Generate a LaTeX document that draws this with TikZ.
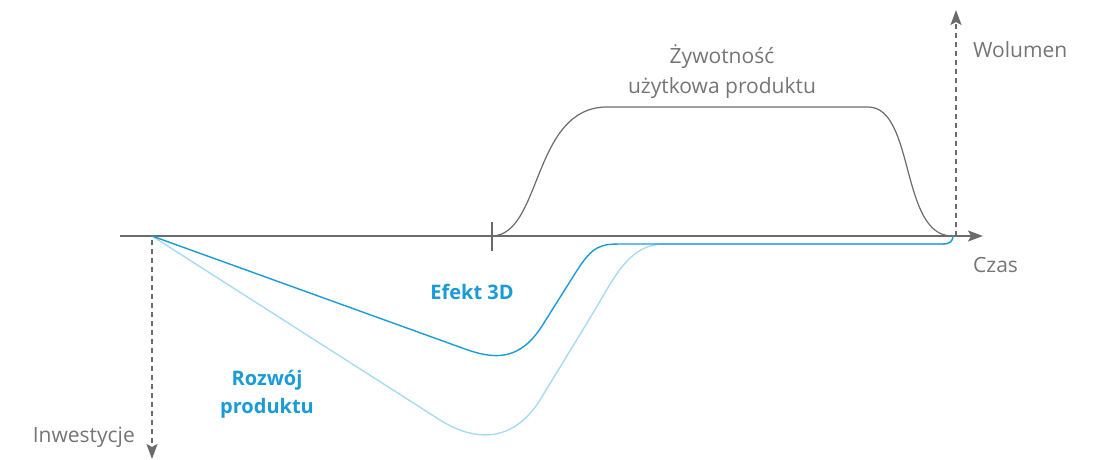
\documentclass[tikz,border=0pt]{standalone}
\usepackage{fontspec}
\setmainfont{Open Sans}
\usetikzlibrary{arrows.meta}
\definecolor{axisgray}{HTML}{6B6B6B}
\definecolor{labelgray}{HTML}{757575}
\definecolor{hpblue}{HTML}{1A9BD7}
\definecolor{paleblue}{HTML}{A6DBF3}
\tikzset{
  axis/.style={draw=axisgray, line width=1.4pt},
  guide/.style={draw=axisgray, line width=1.3pt, dash pattern=on 5pt off 4pt},
  tip/.style={-{Stealth[length=15pt,width=11pt,inset=3pt]}},
  lifecurve/.style={draw=axisgray, line width=1.2pt},
  effect/.style={draw=hpblue, line width=1.4pt, line join=round},
  devel/.style={draw=paleblue, line width=1.4pt, line join=round},
  greylabel/.style={text=labelgray, font=\fontsize{21}{30}\selectfont, inner sep=0pt, align=center},
  bluelabel/.style={text=hpblue, font=\fontsize{20}{28}\selectfont\bfseries, inner sep=0pt, align=center}
}
\begin{document}
\begin{tikzpicture}[x=1pt,y=-1pt]
\useasboundingbox (0,0) rectangle (1100,459);

% axes
\coordinate (o) at (152,236);
\coordinate (xstart) at (120,236);
\coordinate (xend) at (983,236);
\coordinate (vbase) at (956,236);
\coordinate (vtop) at (956,10);
\coordinate (dtop) at (152,240);
\coordinate (dbot) at (152,459);
\coordinate (tk1) at (492,222);
\coordinate (tk2) at (492,251);

\draw[guide, tip] (vbase) -- (vtop);
\draw[guide, tip] (dtop) -- (dbot);
\draw[axis, tip] (xstart) -- (xend);
\draw[axis] (tk1) -- (tk2);

% product life
\draw[lifecurve] (492,236) .. controls (542,235) and (532,107) .. (607,107)
  -- (868,107) .. controls (915,107) and (900,236) .. (952,236);

% product development curve
\draw[devel] (o) -- (440,420) .. controls (475,442) and (513,443) .. (540,400)
  -- (590,318) .. controls (615,277) and (628,244) .. (665,244) -- (945,244)
  .. controls (950,244) and (953,241) .. (953,236);

% 3D effect curve
\draw[effect] (o) -- (465,349) .. controls (493,359) and (519,362) .. (542,326)
  -- (576,272) .. controls (593,245) and (601,244) .. (622,244) -- (942,244)
  .. controls (950,244) and (953,241) .. (953,236);

% labels
\node[greylabel] (life) at (722,72) {Żywotność\\użytkowa produktu};
\node[greylabel, anchor=west] (vol) at (973,50) {Wolumen};
\node[greylabel, anchor=west] (time) at (973,265) {Czas};
\node[greylabel, anchor=east] (inv) at (135,437) {Inwestycje};
\node[bluelabel] (eff) at (472,292) {Efekt 3D};
\node[bluelabel] (dev) at (267,394) {Rozwój\\produktu};
\end{tikzpicture}
\end{document}
